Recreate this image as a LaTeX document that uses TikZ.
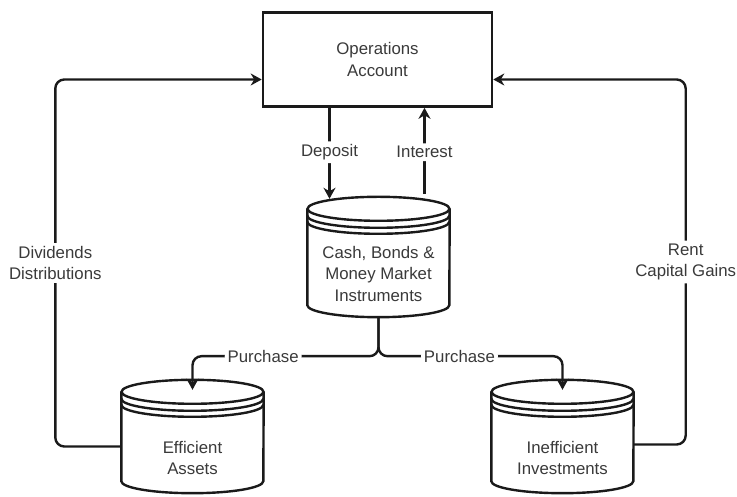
\documentclass[tikz,border=0pt]{standalone}
\usepackage{fontspec}
\setmainfont{Liberation Sans}
\usepackage{xcolor}
\usetikzlibrary{arrows.meta}
\definecolor{inkline}{HTML}{1A1A1A}
\definecolor{inktext}{HTML}{3A3A3A}

\tikzset{
  boxline/.style={line width=2.6pt, draw=inkline},
  storeline/.style={line width=2.4pt, draw=inkline},
  store/.style={minimum width=142pt, minimum height=#1, inner sep=0pt},
  flow/.style={line width=2.4pt, draw=inkline, rounded corners=9pt,
    -{Stealth[length=11pt, width=12pt, inset=3.5pt]}},
  tag/.style={fill=white, text=inktext, align=center, inner sep=3pt,
    font=\fontsize{16.8}{21.5}\selectfont},
}

\newcommand{\drawstore}[1]{%
  \draw[storeline, fill=white] ([yshift=-12]#1.north west) -- ([yshift=12]#1.south west)
    arc[start angle=180, end angle=360, x radius=71, y radius=12] -- ([yshift=-12]#1.north east);
  \draw[storeline] ([yshift=-12]#1.north) ellipse [x radius=71, y radius=12];
  \foreach \gap in {19,25}
    \draw[storeline] ([yshift=-\gap]#1.north west) arc[start angle=180, end angle=360, x radius=71, y radius=12];
}

\begin{document}
\begin{tikzpicture}[x=1pt, y=1pt]
  \useasboundingbox (0,0) rectangle (737,497);

  \node[boxline, tag, minimum width=229pt, minimum height=94pt] (ops) at (377.5,437.5) {Operations\\Account};

  \node[store=120pt] (cash) at (378.5,240) {};
  \node[store=113pt] (eff) at (192.5,60.5) {};
  \node[store=113pt] (ineff) at (562.5,60.5) {};

  \drawstore{cash}
  \drawstore{eff}
  \drawstore{ineff}

  \node[tag, fill=none] (cashtext) at ([yshift=-17]cash.center) {Cash, Bonds \&\\Money Market\\Instruments};
  \node[tag, fill=none] (efftext) at ([yshift=-21.5]eff.center) {Efficient\\Assets};
  \node[tag, fill=none] (inefftext) at ([yshift=-21.5]ineff.center) {Inefficient\\Investments};

  \coordinate (depo) at ([xshift=-48]ops.south);
  \coordinate (intr) at ([xshift=47]ops.south);

  \draw[flow, shorten >=-2pt] (depo) -- node[tag] {Deposit} (depo |- cash.north);
  \draw[flow, shorten <=3pt] (intr |- cash.north) -- node[tag] {Interest} (intr);

  \draw[flow] (cash.south) -- ++(0,-39) -| node[tag, pos=0.31] {Purchase} ([yshift=-10]eff.north);
  \draw[flow] (cash.south) -- ++(0,-39) -| node[tag, pos=0.22] {Purchase} ([yshift=-10]ineff.north);

  \draw[flow] ([yshift=-10]eff.west) -- ++(-66,0) |- node[tag, pos=0.25] {Dividends\\Distributions} ([yshift=-20]ops.west);
  \draw[flow] ([yshift=-8]ineff.east) -- ++(52,0) |- node[tag, pos=0.25] {Rent\\Capital Gains} ([yshift=-20]ops.east);
\end{tikzpicture}
\end{document}
